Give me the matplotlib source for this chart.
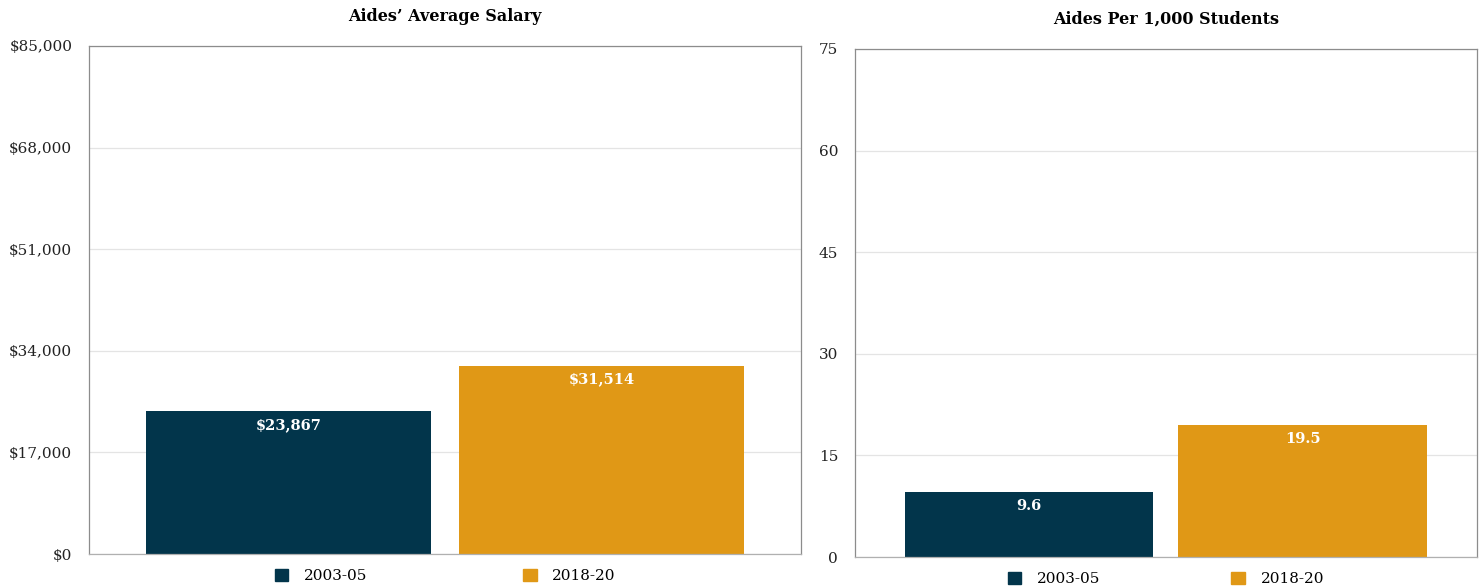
import matplotlib
matplotlib.use("Agg")
import matplotlib.pyplot as plt
from matplotlib.patches import Patch

# data
series = ["2003-05", "2018-20"]
salary = [23867, 31514]
aides_per_1000 = [9.6, 19.5]
salary_ticks = [0, 17000, 34000, 51000, 68000, 85000]
aides_ticks = [0, 15, 30, 45, 60, 75]

colors = ["#02354b", "#e09816"]
plt.rcParams["font.family"] = ["DejaVu Serif"]

fig = plt.figure(figsize=(14.79, 5.88), dpi=100)
ax1 = fig.add_axes([0.0602, 0.0578, 0.4814, 0.864])
ax2 = fig.add_axes([0.578, 0.0527, 0.4205, 0.864])

offsets = [-0.22, 0.22]


def draw_panel(ax, values, ticks, fmt, title, colspace, title_pad):
    for i, (v, c) in enumerate(zip(values, colors)):
        ax.bar(offsets[i], v, width=0.4, color=c, zorder=2)
        ax.annotate(fmt(v), xy=(offsets[i], v), xytext=(0, -5),
                    textcoords="offset points", ha="center", va="top",
                    color="white", fontsize=10.5, fontweight="bold", zorder=3)
    ax.set_xlim(-0.5, 0.5)
    ax.set_ylim(ticks[0], ticks[-1])
    ax.set_yticks(ticks)
    ax.set_yticklabels([fmt(t) for t in ticks])
    ax.set_xticks([])
    ax.grid(axis="y", color="#e4e4e4", linewidth=0.9, zorder=0)
    ax.tick_params(axis="y", length=0, pad=12, labelsize=11, colors="#222222")
    for s in ax.spines.values():
        s.set_color("#8c8c8c")
        s.set_linewidth(0.9)
    ax.spines["bottom"].set_color("#b0b0b0")
    ax.set_title(title, fontsize=11.5, fontweight="bold", pad=title_pad)
    handles = [Patch(facecolor=c, edgecolor=c) for c in colors]
    ax.legend(handles, series, loc="upper center", bbox_to_anchor=(0.5, -0.008),
              ncol=2, frameon=False, handlelength=0.9, handleheight=0.9,
              handletextpad=1.0, columnspacing=colspace, fontsize=11,
              borderaxespad=0.3)


draw_panel(ax1, salary, salary_ticks, lambda v: f"${v:,.0f}",
           "Aides\u2019 Average Salary", 10.2, 18)
draw_panel(ax2, aides_per_1000, aides_ticks, lambda v: f"{v:g}",
           "Aides Per 1,000 Students", 8.6, 18)

fig.savefig("out.png", dpi=100)
